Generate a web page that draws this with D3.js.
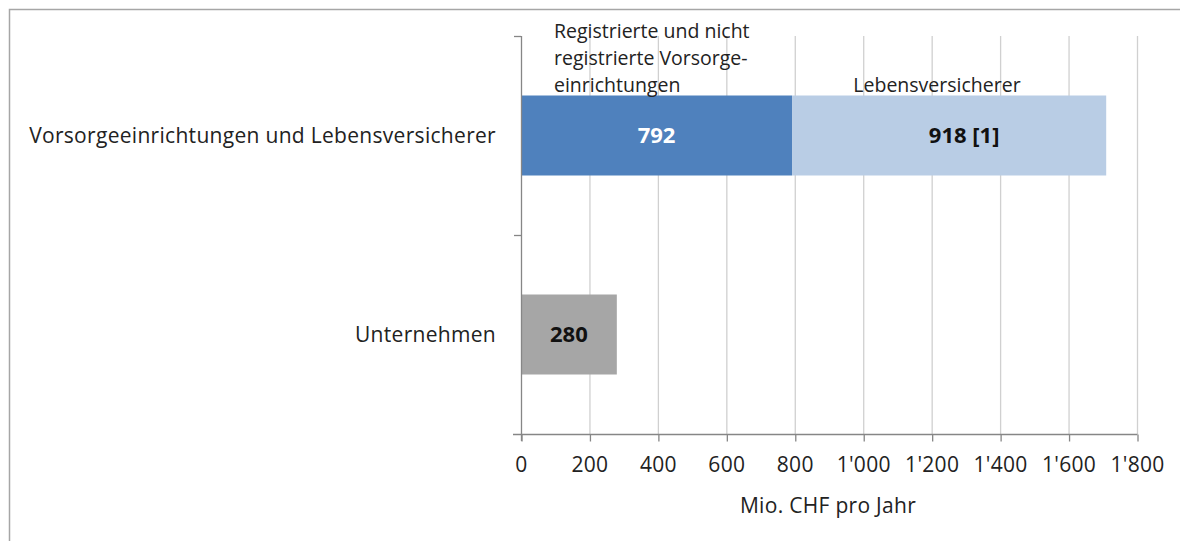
<!DOCTYPE html>
<html><head><meta charset="utf-8">
<script src="https://cdn.jsdelivr.net/npm/d3@7"></script>
<style>body{margin:0;background:#fff}svg{display:block}text{font-family:"Open Sans",sans-serif}</style>
</head><body><svg id="c" width="1180" height="541"></svg>
<script>
const categories = ["Vorsorgeeinrichtungen und Lebensversicherer", "Unternehmen"];
const seriesNames = ["Registrierte und nicht registrierte Vorsorgeeinrichtungen", "Lebensversicherer", "Unternehmen"];
const registriert = [792, 0];
const lebensvers = [918, 0];
const unternehmen = [0, 280];
const valueLabels = [["792", "918 [1]"], ["280"]];
const tickValues = [0,200,400,600,800,1000,1200,1400,1600,1800];
const tickLabels = ["0","200","400","600","800","1'000","1'200","1'400","1'600","1'800"];
const axisTitle = "Mio. CHF pro Jahr";

const svg = d3.select("#c");
const x = d3.scaleLinear().domain([0,1800]).range([521,1137]);
const y = d3.scaleBand().domain(categories).range([36,434]);
const fs = 21, ls = "0.3px";

// frame
svg.append("path").attr("d","M9.5,541V9.5H1180").attr("fill","none").attr("stroke","#a6a6a6").attr("stroke-width",1.5);

// gridlines
svg.append("g").selectAll("line").data(tickValues.slice(1)).join("line")
  .attr("x1",d=>x(d)+0.5).attr("x2",d=>x(d)+0.5).attr("y1",36).attr("y2",434)
  .attr("stroke","#d0d0d0").attr("stroke-width",1.3);

// bars
const bh = 80;
const g = svg.append("g");
categories.forEach((c,i)=>{
  const cy = y(c)+y.bandwidth()/2;
  let x0 = 0;
  [[registriert[i],"#4f81bd"],[lebensvers[i],"#b9cde5"],[unternehmen[i],"#a6a6a6"]].forEach(([v,col])=>{
    if(v>0){
      g.append("rect").attr("x",x(x0)).attr("y",cy-bh/2).attr("width",x(x0+v)-x(x0)).attr("height",bh).attr("fill",col);
      x0+=v;
    }
  });
});

// axes
const xa = svg.append("g").attr("transform","translate(0,434.5)")
  .call(d3.axisBottom(x).tickValues(tickValues).tickFormat((d,i)=>tickLabels[i]).tickSize(7).tickPadding(16).tickSizeOuter(0));
xa.select(".domain").remove();
xa.append("line").attr("x1",513).attr("x2",x(1800)+0.5).attr("stroke","#868686").attr("stroke-width",1.3);
xa.selectAll(".tick line").attr("stroke","#868686").attr("stroke-width",1.3).attr("transform","translate(0.5,0)");
xa.selectAll(".tick text").attr("font-size",fs).attr("letter-spacing",ls).attr("fill","#222").attr("font-family","'Open Sans',sans-serif");

// y axis
svg.append("line").attr("x1",521.5).attr("x2",521.5).attr("y1",36).attr("y2",441).attr("stroke","#868686").attr("stroke-width",1.3);
svg.append("g").selectAll("line").data([36,235]).join("line")
  .attr("x1",514).attr("x2",521).attr("y1",d=>d+0.5).attr("y2",d=>d+0.5).attr("stroke","#868686").attr("stroke-width",1.3);

// category labels
svg.append("g").selectAll("text").data(categories).join("text")
  .attr("x",496).attr("y",d=>y(d)+y.bandwidth()/2).attr("dy","0.35em").attr("text-anchor","end")
  .attr("font-size",fs).attr("letter-spacing",ls).attr("fill","#222").text(d=>d);

// value labels
const c0 = y(categories[0])+y.bandwidth()/2, c1 = y(categories[1])+y.bandwidth()/2;
const vfs = 22;
svg.append("text").attr("x",(x(0)+x(registriert[0]))/2).attr("y",c0).attr("dy","0.35em").attr("text-anchor","middle")
  .attr("font-size",vfs).attr("font-weight","bold").attr("fill","#fff").text(valueLabels[0][0]);
svg.append("text").attr("x",(x(registriert[0])+x(registriert[0]+lebensvers[0]))/2+15).attr("y",c0).attr("dy","0.35em").attr("text-anchor","middle")
  .attr("font-size",vfs).attr("font-weight","bold").attr("fill","#111").text(valueLabels[0][1]);
svg.append("text").attr("x",(x(0)+x(unternehmen[1]))/2).attr("y",c1).attr("dy","0.35em").attr("text-anchor","middle")
  .attr("font-size",vfs).attr("font-weight","bold").attr("fill","#111").text(valueLabels[1][0]);

// series labels
const sfs = 19.5;
const sl = svg.append("text").attr("x",554).attr("font-size",sfs).attr("fill","#222");
["Registrierte und nicht","registrierte Vorsorge-","einrichtungen"].forEach((t,i)=>{
  sl.append("tspan").attr("x",554).attr("y",38+i*27).text(t);
});
svg.append("text").attr("x",937).attr("y",92).attr("text-anchor","middle").attr("font-size",sfs).attr("fill","#222").text(seriesNames[1]);

// axis title
svg.append("text").attr("x",828).attr("y",513).attr("text-anchor","middle").attr("font-size",fs).attr("letter-spacing",ls).attr("fill","#222").text(axisTitle);
</script></body></html>
